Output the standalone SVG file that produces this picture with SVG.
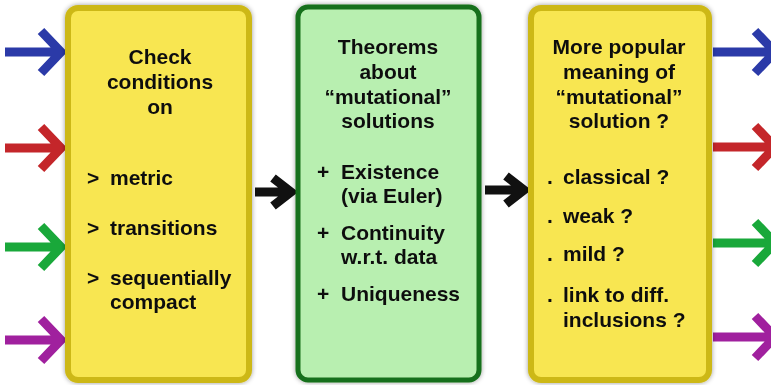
<svg xmlns="http://www.w3.org/2000/svg" width="771" height="385" viewBox="0 0 771 385">
<defs>
<style>
.t{font-family:"Liberation Sans",Arial,sans-serif;font-weight:bold;font-size:21px;fill:#111;}
.c{text-anchor:middle;}
.y{fill:#f8e651;stroke:#cdb818;stroke-width:6;}
.g{fill:#b8efb0;stroke:#17701a;stroke-width:5;}
.a{fill:none;stroke-width:9;stroke-linejoin:miter;stroke-miterlimit:10;}
</style>
<filter id="sh" x="-10%" y="-10%" width="120%" height="120%"><feGaussianBlur in="SourceAlpha" stdDeviation="2.5"/><feComponentTransfer><feFuncA type="linear" slope="0.4"/></feComponentTransfer><feMerge><feMergeNode/><feMergeNode in="SourceGraphic"/></feMerge></filter>
</defs>
<rect width="771" height="385" fill="#fff"/>
<g id="connectors">
<g stroke="#2b3aa8" class="a"><path d="M5 52H58M41 31L61 52L41 73"/></g>
<g stroke="#c4262a" class="a"><path d="M5 148H58M41 127L61 148L41 169"/></g>
<g stroke="#19a83a" class="a"><path d="M5 247H58M41 226L61 247L41 268"/></g>
<g stroke="#a0209e" class="a"><path d="M5 340H58M41 319L61 340L41 361"/></g>
<g stroke="#111" class="a"><path d="M255 192H289M273 178L291 192L273 206"/></g>
<g stroke="#111" class="a"><path d="M485 190H522M506 176L524 190L506 204"/></g>
<g stroke="#2b3aa8" class="a"><path d="M713 52H772M755 31L775 52L755 73"/></g>
<g stroke="#c4262a" class="a"><path d="M713 147H772M755 126L775 147L755 168"/></g>
<g stroke="#19a83a" class="a"><path d="M713 243H772M755 222L775 243L755 264"/></g>
<g stroke="#a0209e" class="a"><path d="M713 337H772M755 316L775 337L755 358"/></g>
</g>
<g id="node-check" filter="url(#sh)">
<rect class="y" x="68" y="8" width="181" height="372" rx="10"/>
<text class="t c" x="160" y="64">Check</text>
<text class="t c" x="160" y="89">conditions</text>
<text class="t c" x="160" y="114">on</text>
<text class="t" x="87" y="185">&gt;</text><text class="t" x="110" y="185">metric</text>
<text class="t" x="87" y="235">&gt;</text><text class="t" x="110" y="235">transitions</text>
<text class="t" x="87" y="285">&gt;</text><text class="t" x="110" y="285">sequentially</text>
<text class="t" x="110" y="309">compact</text>
</g>
<g id="node-theorems" filter="url(#sh)">
<rect class="g" x="298" y="7" width="181" height="373" rx="10"/>
<text class="t c" x="388" y="54">Theorems</text>
<text class="t c" x="388" y="79">about</text>
<text class="t c" x="388" y="104">“mutational”</text>
<text class="t c" x="388" y="128">solutions</text>
<text class="t" x="317" y="179">+</text><text class="t" x="341" y="179">Existence</text>
<text class="t" x="341" y="203">(via Euler)</text>
<text class="t" x="317" y="240">+</text><text class="t" x="341" y="240">Continuity</text>
<text class="t" x="341" y="264">w.r.t. data</text>
<text class="t" x="317" y="301">+</text><text class="t" x="341" y="301">Uniqueness</text>
</g>
<g id="node-meaning" filter="url(#sh)">
<rect class="y" x="531" y="8" width="178" height="372" rx="10"/>
<text class="t c" x="619" y="54">More popular</text>
<text class="t c" x="619" y="79">meaning of</text>
<text class="t c" x="619" y="104">“mutational”</text>
<text class="t c" x="619" y="128">solution ?</text>
<text class="t" x="547" y="184">.</text><text class="t" x="563" y="184">classical ?</text>
<text class="t" x="547" y="223">.</text><text class="t" x="563" y="223">weak ?</text>
<text class="t" x="547" y="261">.</text><text class="t" x="563" y="261">mild ?</text>
<text class="t" x="547" y="302">.</text><text class="t" x="563" y="302">link to diff.</text>
<text class="t" x="563" y="327">inclusions ?</text>
</g>
</svg>
